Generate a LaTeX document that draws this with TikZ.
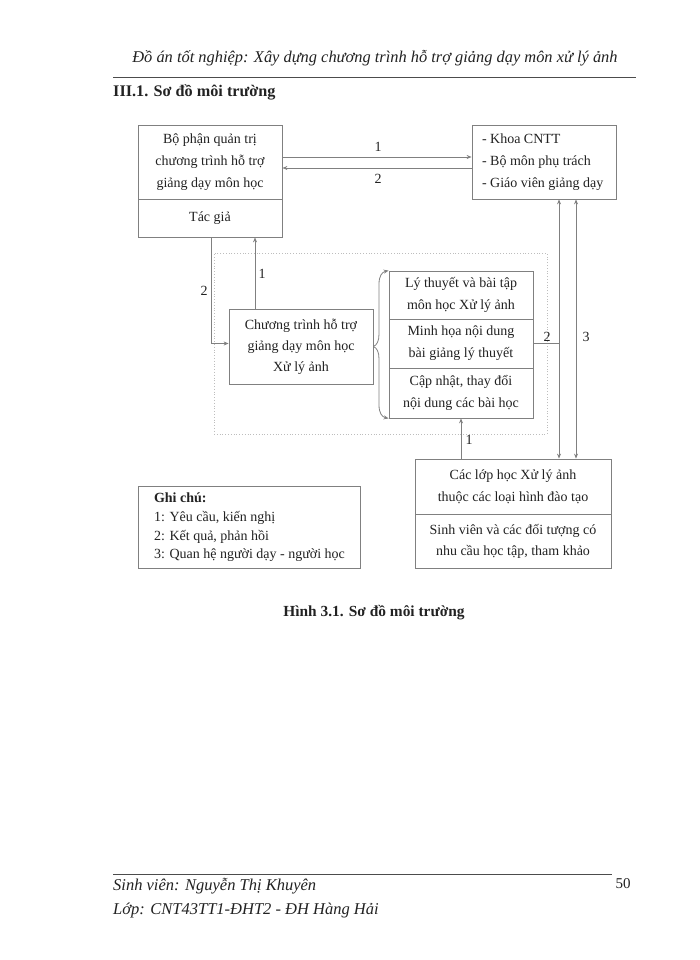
\documentclass[tikz,border=0pt]{standalone}
\usepackage{fontspec}
\setmainfont{Liberation Serif}
\usetikzlibrary{arrows.meta}
\definecolor{linec}{HTML}{808080}
\definecolor{txt}{HTML}{222222}
\definecolor{dotc}{HTML}{BDBDBD}
\newcommand{\legline}[1]{\makebox[190pt][l]{#1}}
\begin{document}
\begin{tikzpicture}[x=1pt,y=-1pt,
  box/.style={draw=linec, line width=0.8pt, inner sep=0pt, align=center, text=txt,
    font=\fontsize{14}{22}\selectfont},
  lbl/.style={inner sep=0pt, text=txt, font=\fontsize{14}{16}\selectfont},
  conn/.style={draw=linec, line width=0.8pt},
  arr/.style={conn, -{Stealth[length=5pt,width=4pt]}},
  darr/.style={conn, {Stealth[length=5pt,width=4pt]}-{Stealth[length=5pt,width=4pt]}},
  plain/.style={inner sep=0pt, text=txt}]
\useasboundingbox (0,0) rectangle (700,960);
\fill[white] (0,0) rectangle (700,960);

% header
\node[plain, font=\fontsize{16.4}{18}\selectfont\itshape] (hdr) at (375,58) {Đồ án tốt nghiệp: Xây dựng chương trình hỗ trợ giảng dạy môn xử lý ảnh};
\coordinate (hl1) at (113,77); \coordinate (hl2) at (636,77);
\draw[black!70, line width=0.8pt] (hl1) -- (hl2);
\node[plain, anchor=west, font=\fontsize{16.2}{18}\selectfont\bfseries] (ttl) at (113,92) {III.1. Sơ đồ môi trường};

% group rectangle
\node[draw=dotc, dotted, line width=0.8pt, minimum width=333pt, minimum height=181pt, inner sep=0pt] (grp) at (380.5,343.5) {};

% boxes
\node[box, minimum width=144pt, minimum height=74pt] (adm) at (210,162) {Bộ phận quản trị\\chương trình hỗ trợ\\giảng dạy môn học};
\node[box, minimum width=144pt, minimum height=38pt] (auth) at (210,218) {Tác giả};
\node[box, minimum width=144pt, minimum height=74pt, align=left] (khoa) at (544,162) {\makebox[124pt][l]{- Khoa CNTT}\\- Bộ môn phụ trách\\- Giáo viên giảng dạy};
\node[box, minimum width=144pt, minimum height=75pt, font=\fontsize{14}{21}\selectfont] (prog) at (301,346.5) {Chương trình hỗ trợ\\giảng dạy môn học\\Xử lý ảnh};
\node[box, minimum width=144pt, minimum height=48pt] (c1) at (461,295) {Lý thuyết và bài tập\\môn học Xử lý ảnh};
\node[box, minimum width=144pt, minimum height=49pt] (c2) at (461,343.5) {Minh họa nội dung\\bài giảng lý thuyết};
\node[box, minimum width=144pt, minimum height=50pt] (c3) at (461,393) {Cập nhật, thay đổi\\nội dung các bài học};
\node[box, minimum width=196pt, minimum height=55pt] (cls) at (513,486.5) {Các lớp học Xử lý ảnh\\thuộc các loại hình đào tạo};
\node[box, minimum width=196pt, minimum height=54pt, font=\fontsize{14}{21}\selectfont] (stu) at (513,541) {Sinh viên và các đối tượng có\\nhu cầu học tập, tham khảo};
\node[box, minimum width=222pt, minimum height=82pt, align=left, font=\fontsize{14}{18.7}\selectfont] (leg) at (249,527.5) {\legline{\bfseries Ghi chú:}\\\legline{1: Yêu cầu, kiến nghị}\\\legline{2: Kết quả, phản hồi}\\\legline{3: Quan hệ người dạy - người học}};

% connectors top
\draw[arr] ([yshift=5pt]adm.east) -- ([yshift=5pt]khoa.west);
\draw[arr] ([yshift=-6pt]khoa.west) -- ([yshift=-6pt]adm.east);
\node[lbl] (l1a) at (378,147) {1};
\node[lbl] (l2a) at (378,179) {2};

% left connectors
\draw[arr] ([xshift=1pt]auth.south) |- ([yshift=3pt]prog.west);
\draw[arr] ([xshift=-46pt]prog.north) -- ([xshift=-46pt]prog.north |- auth.south);
\node[lbl] (l2b) at (204,291) {2};
\node[lbl] (l1b) at (262,274) {1};

% brace
\draw[arr] (prog.east) .. controls (377,345) and (379,341) .. (379,334) -- (379,284) .. controls (379,276) and (382,272) .. (c1.north west);
\draw[arr] (prog.east) .. controls (377,348) and (379,352) .. (379,359) -- (379,405) .. controls (379,413) and (382,417) .. (c3.south west);

% right verticals
\coordinate (v2t) at ([xshift=15pt]khoa.south);
\coordinate (v2b) at (v2t |- cls.north);
\coordinate (v3t) at ([xshift=32pt]khoa.south);
\coordinate (v3b) at (v3t |- cls.north);
\draw[darr] (v2t) -- (v2b);
\draw[darr] (v3t) -- (v3b);
\coordinate (v2m) at (c2.east -| v2t);
\draw[conn] (c2.east) -- (v2m);
\node[lbl] (l2c) at (547,337) {2};
\node[lbl] (l3c) at (586,337) {3};

% bottom connector
\coordinate (b1) at ([xshift=-52pt]cls.north);
\draw[arr] (b1) -- (b1 |- c3.south);
\node[lbl] (l1c) at (469,440) {1};

% caption
\node[plain, font=\fontsize{15.4}{17}\selectfont\bfseries] (cap) at (374,613) {Hình 3.1. Sơ đồ môi trường};

% footer
\coordinate (fl1) at (113,874); \coordinate (fl2) at (612,874);
\draw[black!70, line width=0.8pt] (fl1) -- (fl2);
\node[plain, anchor=west, font=\fontsize{16.5}{18}\selectfont\itshape] (f1) at (113,886) {Sinh viên: Nguyễn Thị Khuyên};
\node[plain, anchor=west, font=\fontsize{16.5}{18}\selectfont\itshape] (f2) at (113,911) {Lớp: CNT43TT1-ĐHT2 - ĐH Hàng Hải};
\node[plain, font=\fontsize{15}{17}\selectfont] (pg) at (623,884) {50};
\end{tikzpicture}
\end{document}
